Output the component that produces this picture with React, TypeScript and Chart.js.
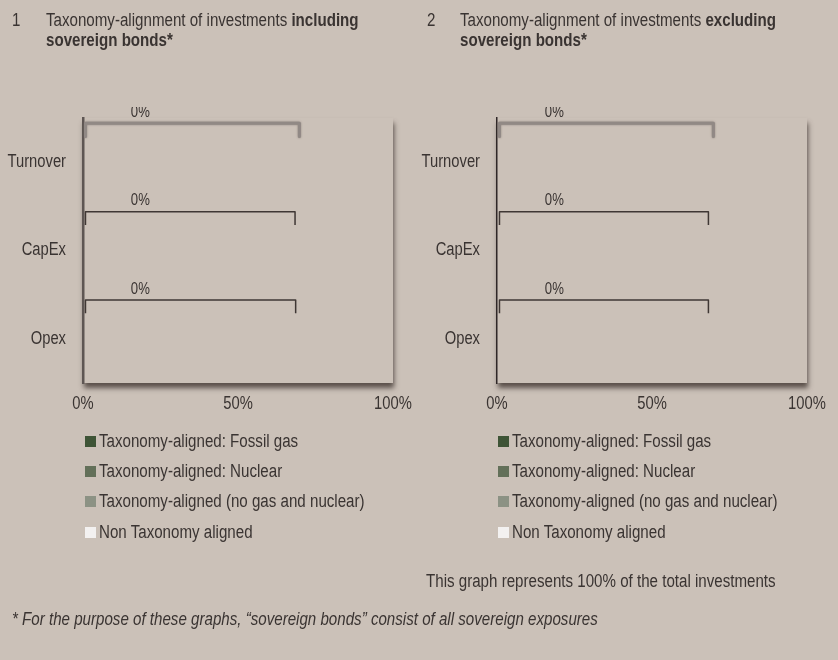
import React, { useEffect, useRef } from "react";
import { Chart, registerables } from "chart.js";
Chart.register(...registerables);

const FONT = '"Liberation Sans", Arial, sans-serif';
const NARROW = 0.82;
const NARROW_HTML = 0.84;
const BG = "#cbc1b8";
const TEXT = "#3a3432";

const categories = ["Turnover", "CapEx", "Opex"];
const seriesNames = [
  "Taxonomy-aligned: Fossil gas",
  "Taxonomy-aligned: Nuclear",
  "Taxonomy-aligned (no gas and nuclear)",
  "Non Taxonomy aligned",
];
const seriesColors = ["#3e5436", "#637059", "#8c9284", "#f3f1f0"];

// chart 1: including sovereign bonds
const inclFossilGas = [0, 0, 0];
const inclNuclear = [0, 0, 0];
const inclOther = [0, 0, 0];
const inclNonAligned = [0, 0, 0];
const inclBracketLabels = ["0%", "0%", "0%"];
const inclBracketEnd = [69.8, 68.4, 68.6];

// chart 2: excluding sovereign bonds
const exclFossilGas = [0, 0, 0];
const exclNuclear = [0, 0, 0];
const exclOther = [0, 0, 0];
const exclNonAligned = [0, 0, 0];
const exclBracketLabels = ["0%", "0%", "0%"];
const exclBracketEnd = [69.8, 68.2, 68.2];

const bracketStart = 0.8;
const bracketLabelAt = 18.5;
const xTickValues = [0, 50, 100];

function narrowText(ctx: CanvasRenderingContext2D, text: string, x: number, y: number, align: CanvasTextAlign, size: number) {
  ctx.save();
  ctx.font = `${size}px ${FONT}`;
  ctx.fillStyle = TEXT;
  ctx.translate(x, y);
  ctx.scale(NARROW, 1);
  ctx.textAlign = align;
  ctx.textBaseline = "middle";
  ctx.fillText(text, 0, 0);
  ctx.restore();
}

const bracketPlugin = {
  id: "brackets",
  beforeDraw(chart: any) {
    const { ctx, chartArea: a } = chart;
    ctx.save();
    ctx.shadowColor = "rgba(70,60,55,0.85)";
    ctx.shadowBlur = 5;
    ctx.shadowOffsetX = 1;
    ctx.shadowOffsetY = 5;
    ctx.fillStyle = BG;
    ctx.fillRect(a.left, a.top, a.right - a.left, a.bottom - a.top);
    ctx.restore();
  },
  afterDraw(chart: any) {
    const { ctx, chartArea: a } = chart;
    const xs = chart.scales.x;
    const ys = chart.scales.y;
    ys.ticks.forEach((t: any, i: number) => {
      narrowText(ctx, String(ys.getLabelForValue(t.value)), a.left - 17, ys.getPixelForTick(i), "right", 18);
    });
    xs.ticks.forEach((t: any) => {
      narrowText(ctx, t.value + "%", xs.getPixelForValue(t.value), a.bottom + 21, "center", 18);
    });
  },
  afterDatasetsDraw(chart: any, _args: any, opts: any) {
    const { ctx, chartArea: a } = chart;
    const xs = chart.scales.x;
    const ys = chart.scales.y;
    const band = ys.getPixelForValue(1) - ys.getPixelForValue(0);
    (opts.ends as number[]).forEach((end, i) => {
      const x0 = xs.getPixelForValue(bracketStart);
      const x1 = xs.getPixelForValue(end);
      const y = ys.getPixelForValue(i - 0.44);
      const yTick = y + band * 0.15;
      ctx.save();
      if (i === 0) {
        ctx.strokeStyle = "#918985";
        ctx.lineWidth = 3;
        ctx.shadowColor = "rgba(120,110,105,0.8)";
        ctx.shadowBlur = 2;
        ctx.lineCap = "round";
      } else {
        ctx.strokeStyle = "#3f3734";
        ctx.lineWidth = 1.5;
      }
      ctx.lineJoin = "round";
      ctx.beginPath();
      ctx.moveTo(x0, yTick);
      ctx.lineTo(x0, y);
      ctx.lineTo(x1, y);
      ctx.lineTo(x1, yTick);
      ctx.stroke();
      ctx.restore();

      ctx.save();
      ctx.beginPath();
      ctx.rect(0, a.top - 11, chart.width, chart.height);
      ctx.clip();
      narrowText(ctx, opts.labels[i], xs.getPixelForValue(bracketLabelAt), ys.getPixelForValue(i - 0.56), "center", 16);
      ctx.restore();
    });
  },
};

function BarChart({ series, ends, labels, axisColor, axisWidth }: any) {
  const ref = useRef<HTMLCanvasElement>(null);
  useEffect(() => {
    const chart = new Chart(ref.current as HTMLCanvasElement, {
      type: "bar",
      data: {
        labels: categories,
        datasets: series.map((d: number[], k: number) => ({
          label: seriesNames[k],
          data: d,
          backgroundColor: seriesColors[k],
          borderWidth: 0,
        })),
      },
      options: {
        indexAxis: "y",
        responsive: false,
        animation: false,
        layout: { padding: { top: 58, right: 21, bottom: 0, left: 0 } },
        plugins: {
          legend: { display: false },
          tooltip: { enabled: false },
          brackets: { ends, labels },
        } as any,
        scales: {
          x: {
            stacked: true,
            min: 0,
            max: 100,
            afterBuildTicks: (s: any) => {
              s.ticks = xTickValues.map((v) => ({ value: v }));
            },
            afterFit: (s: any) => {
              s.height = 37;
            },
            grid: { display: false, drawTicks: false },
            border: { display: false },
            ticks: { display: false },
          },
          y: {
            stacked: true,
            afterFit: (s: any) => {
              s.width = 83;
            },
            grid: { display: false, drawTicks: false },
            border: { display: true, color: axisColor, width: axisWidth },
            ticks: { display: false },
          },
        },
      } as any,
      plugins: [bracketPlugin],
    });
    return () => chart.destroy();
  }, []);
  return <canvas ref={ref} width={414} height={360} />;
}

const narrowSpan: React.CSSProperties = {
  display: "inline-block",
  transform: `scaleX(${NARROW_HTML})`,
  transformOrigin: "left center",
  whiteSpace: "nowrap",
};

function Legend({ left }: { left: number }) {
  return (
    <div style={{ position: "absolute", left, top: 426 }}>
      {seriesNames.map((n, k) => (
        <div
          key={n}
          style={{
            height: 30.3,
            display: "flex",
            alignItems: "center",
            fontFamily: FONT,
            fontSize: 18,
            color: TEXT,
            whiteSpace: "nowrap",
          }}
        >
          <span
            style={{
              display: "inline-block",
              width: 11,
              height: 11,
              background: seriesColors[k],
              marginRight: 3,
              filter: k === 1 || k === 2 ? "blur(0.6px)" : undefined,
            }}
          />
          <span style={narrowSpan}>{n}</span>
        </div>
      ))}
    </div>
  );
}

const textStyle: React.CSSProperties = {
  position: "absolute",
  fontFamily: FONT,
  fontSize: 18,
  color: TEXT,
  lineHeight: "20px",
  whiteSpace: "nowrap",
  transform: `scaleX(${NARROW_HTML})`,
  transformOrigin: "left top",
};

export default function App() {
  return (
    <div
      style={{
        position: "fixed",
        left: 0,
        top: 0,
        width: 838,
        height: 660,
        background: BG,
        overflow: "hidden",
      }}
    >
      <div style={{ ...textStyle, left: 12, top: 10 }}>1</div>
      <div style={{ ...textStyle, left: 46, top: 10 }}>
        Taxonomy-alignment of investments <b>including</b>
        <br />
        <b>sovereign bonds*</b>
      </div>
      <div style={{ ...textStyle, left: 427, top: 10 }}>2</div>
      <div style={{ ...textStyle, left: 460, top: 10 }}>
        Taxonomy-alignment of investments <b>excluding</b>
        <br />
        <b>sovereign bonds*</b>
      </div>

      <div style={{ position: "absolute", left: 0, top: 60 }}>
        <BarChart
          series={[inclFossilGas, inclNuclear, inclOther, inclNonAligned]}
          ends={inclBracketEnd}
          labels={inclBracketLabels}
          axisColor="#5e5653"
          axisWidth={2.5}
        />
      </div>
      <div style={{ position: "absolute", left: 414, top: 60 }}>
        <BarChart
          series={[exclFossilGas, exclNuclear, exclOther, exclNonAligned]}
          ends={exclBracketEnd}
          labels={exclBracketLabels}
          axisColor="#2f2727"
          axisWidth={1.5}
        />
      </div>

      <Legend left={85} />
      <Legend left={498} />

      <div style={{ ...textStyle, left: 426, top: 571 }}>
        This graph represents 100% of the total investments
      </div>
      <div style={{ ...textStyle, left: 12, top: 609, fontStyle: "italic" }}>
        * For the purpose of these graphs, “sovereign bonds” consist of all sovereign exposures
      </div>
    </div>
  );
}
